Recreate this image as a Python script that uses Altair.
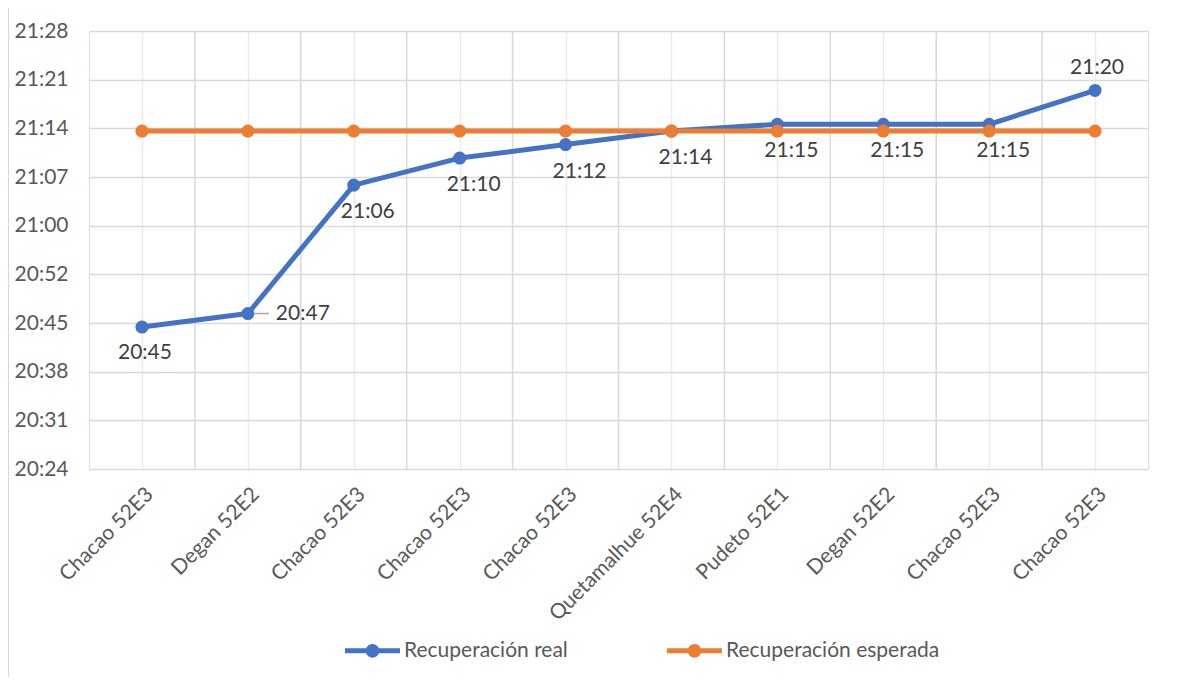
import json
import altair as alt
import pandas as pd

# ---- data ----
stations = ["Chacao 52E3", "Degan 52E2", "Chacao 52E3", "Chacao 52E3", "Chacao 52E3",
            "Quetamalhue 52E4", "Pudeto 52E1", "Degan 52E2", "Chacao 52E3", "Chacao 52E3"]
real_times = ["20:45", "20:47", "21:06", "21:10", "21:12", "21:14", "21:15", "21:15", "21:15", "21:20"]
expected_times = ["21:14"] * 10
series_names = ["Recuperación real", "Recuperación esperada"]
series_colors = ["#4472C4", "#ED7D31"]
y_min_label = "20:24"
y_max_label = "21:28"
y_step_minutes = 7.2  # Excel major unit 0.005 day

FONT = "Lato"
TXT = "#595959"


def to_min(t):
    h, m = t.split(":")
    return int(h) * 60 + int(m)


rows = []
for i, (s, r) in enumerate(zip(stations, real_times)):
    rows.append({"i": i, "station": s, "series": series_names[0], "minutes": to_min(r), "label": r})
for i, (s, e) in enumerate(zip(stations, expected_times)):
    rows.append({"i": i, "station": s, "series": series_names[1], "minutes": to_min(e), "label": e})
df = pd.DataFrame(rows)

y0, y1 = to_min(y_min_label), to_min(y_max_label) + 0.8
n_ticks = int(round((y1 - y0) / y_step_minutes)) + 1
y_ticks = [round(y0 + k * y_step_minutes, 1) for k in range(n_ticks)]

x_vals = list(range(len(stations)))
x_bounds = [k + 0.5 for k in range(len(stations) - 1)]

x_scale = alt.Scale(domain=[-0.5, len(stations) - 0.5], nice=False, zero=False)
y_scale = alt.Scale(domain=[y0, y1], nice=False, zero=False)

name_arr = json.dumps(stations)
x_axis = alt.Axis(values=x_vals, labelExpr=f"{name_arr}[datum.value]", labelAngle=-45,
                  labelFont=FONT, labelFontSize=21, labelColor=TXT, labelPadding=14,
                  labelOverlap=False, labelBound=False, labelFlush=False,
                  ticks=False, domain=False, grid=True, gridColor="#ececec", gridWidth=1.5,
                  title=None)
y_axis = alt.Axis(values=y_ticks,
                  labelExpr="floor(datum.value/60) + ':' + (floor(datum.value%60) < 10 ? '0' : '') + floor(datum.value%60)",
                  labelFont=FONT, labelFontSize=21, labelColor=TXT, labelPadding=21,
                  labelOverlap=False, labelFlush=False,
                  ticks=False, domain=False, grid=True, gridColor="#d9d9d9", gridWidth=1.5,
                  title=None)

legend_path = ("M-1,-0.09H1V0.09H-1Z "
               "M0,-0.25A0.25,0.25 0 1,1 0,0.25A0.25,0.25 0 1,1 0,-0.25Z")

color = alt.Color("series:N", scale=alt.Scale(domain=series_names, range=series_colors),
                  sort=series_names,
                  legend=alt.Legend(orient="none", legendX=256, legendY=592, direction="horizontal",
                                    title=None, symbolType=legend_path, symbolSize=3025,
                                    symbolStrokeWidth=0, symbolOpacity=1,
                                    labelFont=FONT, labelFontSize=21, labelColor=TXT,
                                    labelLimit=0, labelOffset=4, columnPadding=99))

base = alt.Chart(df)

bounds = alt.Chart(pd.DataFrame({"b": x_bounds})).mark_rule(color="#d9d9d9", strokeWidth=1.5).encode(
    x=alt.X("b:Q", scale=x_scale, axis=x_axis)
)

border = alt.Chart(pd.DataFrame({"a": [0]})).mark_rect(fill=None, stroke="#d9d9d9", strokeWidth=2).encode(
    x=alt.value(-81), x2=alt.value(1200), y=alt.value(-26), y2=alt.value(700)
)

lines = base.mark_line(strokeWidth=5, strokeJoin="round", strokeCap="round").encode(
    x=alt.X("i:Q", scale=x_scale, axis=x_axis),
    y=alt.Y("minutes:Q", scale=y_scale, axis=y_axis),
    color=color,
    order=alt.Order("i:Q"),
)

points = base.mark_point(filled=True, size=170, opacity=1).encode(
    x=alt.X("i:Q", scale=x_scale),
    y=alt.Y("minutes:Q", scale=y_scale),
    color=color,
)

real_only = base.transform_filter(alt.datum.series == series_names[0])
last_i = len(stations) - 1

text_style = dict(font=FONT, fontSize=21, color="#404040")
enc = dict(x=alt.X("i:Q", scale=x_scale), y=alt.Y("minutes:Q", scale=y_scale), text="label:N")

label_first = real_only.transform_filter(alt.datum.i == 0).mark_text(
    dx=3, dy=26, baseline="middle", align="center", **text_style).encode(**enc)

labels_below = real_only.transform_filter(
    (alt.datum.i > 1) & (alt.datum.i < last_i)
).mark_text(dx=14, dy=27, baseline="middle", align="center", **text_style).encode(**enc)

labels_above = real_only.transform_filter(alt.datum.i == last_i).mark_text(
    dx=2, dy=-22, baseline="middle", align="center", **text_style).encode(**enc)

labels_right = real_only.transform_filter(alt.datum.i == 1).mark_text(
    dx=28, baseline="middle", align="left", **text_style).encode(**enc)

leader = real_only.transform_filter(alt.datum.i == 1).mark_rule(
    color="#a6a6a6", strokeWidth=1.5, xOffset=6, x2Offset=21).encode(
    x=alt.X("i:Q", scale=x_scale), x2="i:Q", y=alt.Y("minutes:Q", scale=y_scale)
)

chart = alt.layer(border, bounds, lines, points, leader, label_first, labels_below,
                  labels_above, labels_right).properties(
    width=1059, height=438,
    padding={"left": 81, "top": 23, "right": 27, "bottom": 208},
    autosize=alt.AutoSizeParams(type="none"),
).configure_view(stroke="#d9d9d9", strokeWidth=1.5).configure(background="white")

chart.save("out.html", embed_options={"renderer": "svg", "actions": False})
